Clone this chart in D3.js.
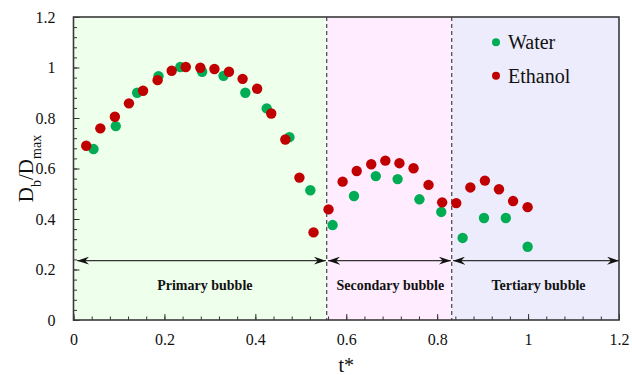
<!DOCTYPE html>
<html>
<head>
<meta charset="utf-8">
<script src="https://cdn.jsdelivr.net/npm/d3@7/dist/d3.min.js"></script>
</head>
<body style="margin:0;background:#fff">
<svg id="chart" width="632" height="375" font-family="Liberation Serif" style="display:block"></svg>
<script>
// Normalised bubble diameter vs. dimensionless time
const waterT = [0.044, 0.093, 0.140, 0.187, 0.235, 0.283, 0.330, 0.378, 0.425, 0.475, 0.521,
                0.570, 0.617, 0.665, 0.713, 0.761, 0.809, 0.856, 0.903, 0.951, 0.999];
const waterD = [0.677, 0.768, 0.900, 0.966, 1.002, 0.983, 0.967, 0.900, 0.838, 0.724, 0.514,
                0.376, 0.491, 0.570, 0.558, 0.478, 0.428, 0.325, 0.404, 0.404, 0.290];
const ethanolT = [0.028, 0.059, 0.091, 0.122, 0.153, 0.185, 0.216, 0.247, 0.279, 0.310, 0.342,
                  0.372, 0.404, 0.435, 0.466, 0.497, 0.528, 0.561, 0.592, 0.623, 0.655, 0.686,
                  0.717, 0.748, 0.781, 0.811, 0.842, 0.873, 0.905, 0.936, 0.967, 0.999];
const ethanolD = [0.690, 0.759, 0.805, 0.858, 0.908, 0.950, 0.987, 1.002, 0.999, 0.994, 0.983,
                  0.955, 0.916, 0.818, 0.715, 0.564, 0.347, 0.438, 0.548, 0.590, 0.617, 0.631,
                  0.621, 0.601, 0.535, 0.466, 0.463, 0.525, 0.552, 0.518, 0.471, 0.447];

// Bubble stages (start, end in t*) and where each stage is labelled
const stageNames = ["Primary bubble", "Secondary bubble", "Tertiary bubble"];
const stageStart = [0, 0.557, 0.832];
const stageEnd = [0.557, 0.832, 1.2];
const stageLabelT = [0.289, 0.697, 1.023];
const stageFill = ["#eeffec", "#ffecff", "#ececfc"];
const arrowLevel = 0.235;
const labelLevel = 0.12;

const xTickLabels = [0, 0.2, 0.4, 0.6, 0.8, 1, 1.2];
const yTickLabels = [0, 0.2, 0.4, 0.6, 0.8, 1, 1.2];
const minorStep = 0.04;

const seriesNames = ["Water", "Ethanol"];
const seriesColors = ["#00ad55", "#c00000"];

const FONT = "Liberation Serif";
const svg = d3.select("#chart");
const m = { left: 73.5, right: 619, top: 17, bottom: 320 };

const x = d3.scaleLinear().domain([0, 1.2]).range([m.left, m.right]);
const y = d3.scaleLinear().domain([0, 1.2]).range([m.bottom, m.top]);

// stage backgrounds
svg.append("g").selectAll("rect").data(stageNames).join("rect")
  .attr("x", (d, i) => x(stageStart[i]))
  .attr("y", m.top)
  .attr("width", (d, i) => x(stageEnd[i]) - x(stageStart[i]))
  .attr("height", m.bottom - m.top)
  .attr("fill", (d, i) => stageFill[i]);

// stage boundaries
svg.append("g").selectAll("line").data(stageStart.slice(1)).join("line")
  .attr("x1", d => x(d)).attr("x2", d => x(d))
  .attr("y1", m.top).attr("y2", m.bottom)
  .attr("stroke", "#444").attr("stroke-width", 1.2)
  .attr("stroke-dasharray", "4,3");

// arrowheads
const defs = svg.append("defs");
defs.append("marker").attr("id", "ah")
  .attr("markerUnits", "userSpaceOnUse")
  .attr("viewBox", "0 0 12 8").attr("refX", 12).attr("refY", 4)
  .attr("markerWidth", 12).attr("markerHeight", 8).attr("orient", "auto-start-reverse")
  .append("path").attr("d", "M0,0 L12,4 L0,8 L4,4 Z").attr("fill", "#111");

const arrowGap = [[0.008, 0.002], [0.003, 0.002], [0.003, 0]];
svg.append("g").selectAll("line").data(stageNames).join("line")
  .attr("x1", (d, i) => x(stageStart[i] + arrowGap[i][0]))
  .attr("x2", (d, i) => x(stageEnd[i] - arrowGap[i][1]))
  .attr("y1", y(arrowLevel)).attr("y2", y(arrowLevel))
  .attr("stroke", "#333").attr("stroke-width", 1.1)
  .attr("marker-start", "url(#ah)").attr("marker-end", "url(#ah)");

svg.append("g").selectAll("text").data(stageNames).join("text")
  .attr("x", (d, i) => x(stageLabelT[i]))
  .attr("y", y(labelLevel))
  .attr("text-anchor", "middle")
  .attr("font-family", FONT).attr("font-size", 14).attr("font-weight", "bold")
  .attr("fill", "#111")
  .text(d => d);

// axes: minor ticks every 0.04, labelled majors every 0.2
const minors = d3.range(0, 1.2 + 1e-9, minorStep);
function styleAxis(g) {
  g.attr("font-family", FONT).attr("font-size", 16);
  g.select(".domain").remove();
  g.selectAll(".tick line").attr("stroke", "#333").attr("stroke-width", 1);
  g.selectAll("text").attr("font-family", FONT).attr("font-size", 16).attr("fill", "#111");
}
svg.append("g").attr("transform", `translate(0,${m.bottom})`)
  .call(d3.axisBottom(x).tickValues(minors).tickSize(-3.5).tickFormat(""))
  .call(styleAxis);
svg.append("g").attr("transform", `translate(0,${m.bottom})`)
  .call(d3.axisBottom(x).tickValues(xTickLabels).tickSize(-6).tickPadding(14).tickFormat(d3.format("~g")))
  .call(styleAxis);
svg.append("g").attr("transform", `translate(${m.left},0)`)
  .call(d3.axisLeft(y).tickValues(minors).tickSize(-3.5).tickFormat(""))
  .call(styleAxis);
svg.append("g").attr("transform", `translate(${m.left},0)`)
  .call(d3.axisLeft(y).tickValues(yTickLabels).tickSize(-6).tickPadding(18).tickFormat(d3.format("~g")))
  .call(styleAxis);

// frame
svg.append("rect")
  .attr("x", m.left).attr("y", m.top)
  .attr("width", m.right - m.left).attr("height", m.bottom - m.top)
  .attr("fill", "none").attr("stroke", "#3a3a3a").attr("stroke-width", 1.6);

// data points
const series = [
  { t: waterT, d: waterD },
  { t: ethanolT, d: ethanolD }
];
series.forEach((s, k) => {
  svg.append("g").selectAll("circle").data(s.t).join("circle")
    .attr("cx", d => x(d))
    .attr("cy", (d, i) => y(s.d[i]))
    .attr("r", 5.2)
    .attr("fill", seriesColors[k]);
});

// legend
const legend = svg.append("g");
seriesNames.forEach((name, k) => {
  const ly = 42.3 + k * 33.4;
  legend.append("circle").attr("cx", 496).attr("cy", ly).attr("r", 4).attr("fill", seriesColors[k]);
  legend.append("text").attr("x", 508).attr("y", ly + 6.8)
    .attr("font-family", FONT).attr("font-size", 20).attr("fill", "#111").text(name);
});

// axis titles
svg.append("text").attr("x", (m.left + m.right) / 2).attr("y", 372)
  .attr("text-anchor", "middle").attr("font-family", FONT).attr("font-size", 20)
  .attr("fill", "#111").text("t*");

const yl = svg.append("text")
  .attr("transform", `translate(33,${(m.top + m.bottom) / 2}) rotate(-90)`)
  .attr("text-anchor", "middle").attr("font-family", FONT).attr("font-size", 21)
  .attr("fill", "#111");
yl.append("tspan").text("D");
yl.append("tspan").attr("baseline-shift", "sub").attr("font-size", 14).text("b");
yl.append("tspan").text("/D");
yl.append("tspan").attr("baseline-shift", "sub").attr("font-size", 14).text("max");
</script>
</body>
</html>
